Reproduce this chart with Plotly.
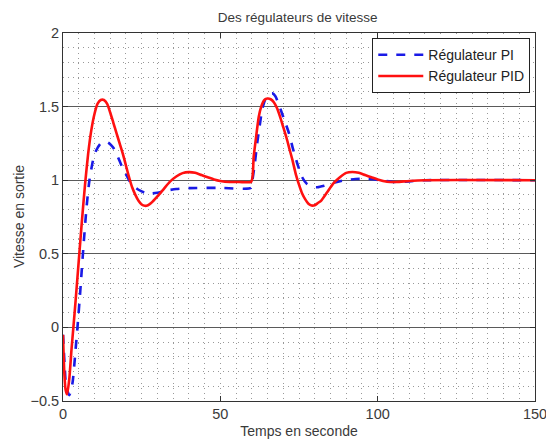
import plotly.graph_objects as go

# Step responses of the two speed controllers (time in s, output speed)
t_pi = [0, 0.5, 1, 2, 3, 4, 4.6, 5.5, 6.5, 7.5, 8.4, 9.5, 10.5, 12, 13.9, 15, 16, 17, 18,
        19, 20, 21, 22, 24, 26, 28, 30, 33, 36, 40, 50, 59.8,
        60.2, 61, 61.7, 62.5, 63.3, 64.3, 65.5, 66.5, 67.5, 68.5, 69.5, 70.5, 71.8, 73,
        74.5, 76, 77.5, 79, 80.8, 83, 86, 89, 93, 97, 101, 105, 110, 115, 150]
v_pi = [-0.05, -0.25, -0.4, -0.46, -0.38, -0.15, 0.0, 0.25, 0.55, 0.82, 1.0, 1.13, 1.2, 1.25, 1.26, 1.245, 1.22, 1.18, 1.13,
        1.08, 1.04, 1.0, 0.97, 0.935, 0.915, 0.91, 0.915, 0.93, 0.94, 0.946, 0.948, 0.948,
        1.0, 1.12, 1.25, 1.37, 1.48, 1.55, 1.585, 1.59, 1.57, 1.52, 1.46, 1.40, 1.32, 1.22,
        1.11, 1.02, 0.975, 0.955, 0.952, 0.962, 0.982, 0.998, 1.008, 1.008, 1.0, 0.988, 0.992, 1.0, 1.0]

t_pid = [0, 0.4, 0.8, 1.3, 2, 2.7, 3.3, 4, 5, 6, 7, 8, 9, 10, 11, 12, 13, 14, 15, 16, 17, 18,
         19, 20, 21, 22, 23, 24, 25, 26, 27, 28, 30, 32, 34, 36, 38, 40, 42, 44, 46, 48, 50, 53, 56, 59.8,
         60.6, 61.4, 62.2, 63, 64, 65, 66, 67, 68, 69, 70, 71, 72, 73, 74, 75, 76, 77, 78, 79, 80, 81,
         82, 84, 86, 88, 90, 92, 94, 96, 98, 100, 103, 106, 110, 115, 150]
v_pid = [-0.05, -0.3, -0.42, -0.455, -0.35, -0.15, 0.0, 0.18, 0.45, 0.72, 0.97, 1.18, 1.34, 1.45, 1.52, 1.545, 1.545, 1.52, 1.46, 1.39, 1.32, 1.25,
         1.18, 1.10, 1.02, 0.95, 0.9, 0.86, 0.835, 0.826, 0.83, 0.845, 0.89, 0.94, 0.99, 1.025, 1.048, 1.055, 1.05, 1.035, 1.02, 1.005, 0.995, 0.988, 0.988, 0.99,
         1.16, 1.3, 1.43, 1.5, 1.545, 1.555, 1.55, 1.53, 1.49, 1.43, 1.36, 1.29, 1.21, 1.13, 1.04, 0.97, 0.91, 0.87, 0.84, 0.828, 0.83, 0.845,
         0.86, 0.92, 0.98, 1.02, 1.05, 1.056, 1.05, 1.035, 1.02, 1.005, 0.99, 0.988, 0.995, 1.0, 1.0]

x_ticks = [0, 50, 100, 150]
y_ticks = [-0.5, 0, 0.5, 1, 1.5, 2]

FONT = "Liberation Sans, Arial, sans-serif"
DOTS = "1px,4px"
TXT = "#3a3a3a"

fig = go.Figure()
fig.add_trace(go.Scatter(
    x=t_pi, y=v_pi, mode="lines", name="Régulateur PI",
    line=dict(color="#1a1ae6", width=2.6, dash="dash", shape="spline", smoothing=0.6),
))
fig.add_trace(go.Scatter(
    x=t_pid, y=v_pid, mode="lines", name="Régulateur PID",
    line=dict(color="#ff1010", width=2.6, shape="spline", smoothing=0.6),
))

fig.update_layout(
    width=546, height=444,
    margin=dict(l=63, r=11, t=33, b=43, autoexpand=False),
    paper_bgcolor="white", plot_bgcolor="white",
    font=dict(family=FONT, color=TXT),
    title=dict(text="Des régulateurs de vitesse", x=0.545, xanchor="center",
               y=0.962, yanchor="middle", font=dict(size=13.5, color=TXT)),
    showlegend=True,
    legend=dict(x=0.99, y=0.986, xanchor="right", yanchor="top",
                bgcolor="white", bordercolor="#222222", borderwidth=1,
                font=dict(size=14, color="#222222"), itemwidth=45,
                tracegroupgap=0, traceorder="normal"),
    annotations=[dict(text="Vitesse en sortie", textangle=-90,
                      xref="paper", yref="paper", x=-0.093, y=0.5,
                      xanchor="center", yanchor="middle", showarrow=False,
                      font=dict(size=14, color=TXT))],
)

fig.update_xaxes(
    range=[0, 150], tickvals=x_ticks, ticks="inside", ticklen=5, tickcolor="#333333",
    tickfont=dict(size=14.5, color=TXT), automargin=False, ticklabeloverflow="allow",
    showline=True, linecolor="#333333", linewidth=1, mirror="ticks",
    showgrid=True, gridcolor="#999999", griddash=DOTS, gridwidth=1,
    minor=dict(dtick=5, showgrid=True, gridcolor="#999999", griddash=DOTS, gridwidth=1),
    zeroline=False,
    title=dict(text="Temps en seconde", font=dict(size=14, color=TXT), standoff=4),
)
fig.update_yaxes(
    range=[-0.5, 2], tickvals=y_ticks, ticks="inside", ticklen=5, tickcolor="#333333",
    tickfont=dict(size=14.5, color=TXT), automargin=False, ticklabeloverflow="allow",
    showline=True, linecolor="#333333", linewidth=1, mirror="ticks",
    showgrid=True, gridcolor="#5a5a5a", gridwidth=1.3,
    minor=dict(dtick=0.1, tick0=0, showgrid=True, gridcolor="#999999", griddash=DOTS, gridwidth=1),
    zeroline=False,
)

fig.write_html("out.html")
